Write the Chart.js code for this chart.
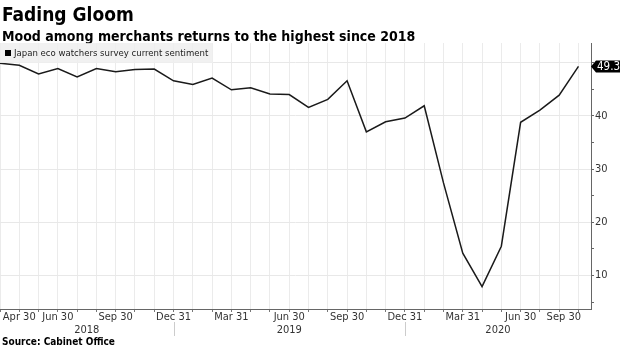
<!DOCTYPE html>
<html>
<head>
<meta charset="utf-8">
<script src="https://cdn.jsdelivr.net/npm/chart.js@4.4.1/dist/chart.umd.min.js"></script>
<style>
  html, body { margin: 0; padding: 0; background: #fff; }
  #wrap { position: relative; width: 620px; height: 348px; overflow: hidden; font-family: "DejaVu Sans Condensed", "DejaVu Sans", sans-serif; font-stretch: condensed; }
  #chart { position: absolute; left: 0; top: 0; }
  .txt { position: absolute; left: 2px; white-space: nowrap; line-height: 1; color: #000; font-weight: bold; }
  #title { top: 5px; font-size: 19px; }
  #subtitle { top: 29px; font-size: 14px; }
  #source { top: 337px; font-size: 10px; }
  #legend { position: absolute; left: 0; top: 43px; width: 213px; height: 20px; background: rgba(238,238,238,0.85); font-size: 9.5px; line-height: 20px; color: #222; white-space: nowrap; }
  #legend span.sw { display: inline-block; width: 6px; height: 6px; background: #000; margin: 0 3px 0 5px; vertical-align: 0px; }
</style>
</head>
<body>
<div id="wrap">
  <canvas id="chart" width="620" height="348"></canvas>
  <div class="txt" id="title">Fading Gloom</div>
  <div class="txt" id="subtitle">Mood among merchants returns to the highest since 2018</div>
  <div id="legend"><span class="sw"></span><span id="legendText"></span></div>
  <div class="txt" id="source">Source: Cabinet Office</div>
</div>
<script>
// Monthly readings, Mar 2018 .. Sep 2020
const months = [
  '2018-03','2018-04','2018-05','2018-06','2018-07','2018-08','2018-09','2018-10','2018-11','2018-12',
  '2019-01','2019-02','2019-03','2019-04','2019-05','2019-06','2019-07','2019-08','2019-09','2019-10','2019-11','2019-12',
  '2020-01','2020-02','2020-03','2020-04','2020-05','2020-06','2020-07','2020-08','2020-09'
];
const sentiment = [
  49.9, 49.5, 47.9, 48.9, 47.3, 48.9, 48.3, 48.7, 48.8, 46.6,
  45.9, 47.1, 44.9, 45.3, 44.1, 44.0, 41.6, 43.1, 46.6, 37.0, 38.9, 39.6,
  41.9, 27.4, 14.2, 7.9, 15.5, 38.8, 41.1, 43.9, 49.3
];
const seriesName = 'Japan eco watchers survey current sentiment';

// labelled month ends on the time axis
const quarterMonths = ['2018-04','2018-06','2018-09','2018-12','2019-03','2019-06','2019-09','2019-12','2020-03','2020-06','2020-09'];
const quarterLabels = ['Apr 30','Jun 30','Sep 30','Dec 31','Mar 31','Jun 30','Sep 30','Dec 31','Mar 31','Jun 30','Sep 30'];
const years = ['2018', '2019', '2020'];
const yearEnds = ['2018-12', '2019-12'];
const yTicks = [5, 10, 15, 20, 25, 30, 35, 40, 45, 50];

document.getElementById('legendText').textContent = seriesName;

const FONT = '"DejaVu Sans Condensed", "DejaVu Sans", sans-serif';

const axisLabels = {
  id: 'axisLabels',
  afterDraw(chart) {
    const { ctx, chartArea, scales } = chart;
    const xs = scales.x, ys = scales.y;
    ctx.save();
    ctx.font = '11px ' + FONT;
    ctx.fillStyle = '#333';
    ctx.textBaseline = 'middle';

    // quarter-end labels
    quarterMonths.forEach((m, i) => {
      const px = xs.getPixelForValue(months.indexOf(m));
      const w = ctx.measureText(quarterLabels[i]).width;
      let left = px - w / 2;
      if (left + w > chartArea.right - 10) left = chartArea.right - 10 - w;
      ctx.textAlign = 'left';
      ctx.fillText(quarterLabels[i], left, chartArea.bottom + 8);
    });

    // year row with separators
    const bounds = [chartArea.left]
      .concat(yearEnds.map(m => xs.getPixelForValue(months.indexOf(m))))
      .concat([chartArea.right]);
    ctx.textAlign = 'center';
    years.forEach((y, i) => {
      ctx.fillText(y, (bounds[i] + bounds[i + 1]) / 2, chartArea.bottom + 21);
    });
    ctx.strokeStyle = '#ccc';
    ctx.lineWidth = 1;
    yearEnds.forEach(m => {
      const px = Math.round(xs.getPixelForValue(months.indexOf(m))) + 0.5;
      ctx.beginPath();
      ctx.moveTo(px, chartArea.bottom + 13);
      ctx.lineTo(px, chartArea.bottom + 27);
      ctx.stroke();
    });

    // last value tag on the right axis
    const last = sentiment[sentiment.length - 1];
    const ty = ys.getPixelForValue(last);
    const x0 = chartArea.right;
    ctx.fillStyle = '#000';
    ctx.beginPath();
    ctx.moveTo(x0, ty);
    ctx.lineTo(x0 + 5, ty - 6);
    ctx.lineTo(620, ty - 6);
    ctx.lineTo(620, ty + 6);
    ctx.lineTo(x0 + 5, ty + 6);
    ctx.closePath();
    ctx.fill();
    ctx.fillStyle = '#fff';
    ctx.font = '11.5px ' + FONT;
    ctx.textAlign = 'left';
    ctx.fillText(last.toFixed(1), x0 + 6, ty + 0.5);
    ctx.restore();
  }
};

new Chart(document.getElementById('chart'), {
  type: 'line',
  data: {
    datasets: [{
      label: seriesName,
      data: sentiment.map((v, i) => ({ x: i, y: v })),
      borderColor: '#1a1a1a',
      borderWidth: 1.5,
      pointRadius: 0,
      tension: 0,
      fill: false
    }]
  },
  options: {
    responsive: false,
    animation: false,
    devicePixelRatio: 1,
    layout: { padding: { top: 43, left: 0, right: 0, bottom: 0 } },
    plugins: { legend: { display: false }, tooltip: { enabled: false } },
    scales: {
      x: {
        type: 'linear',
        min: 0,
        max: 30.65,
        afterBuildTicks: scale => { scale.ticks = months.map((m, i) => ({ value: i })); },
        ticks: { display: false },
        grid: { color: '#ebebeb', tickColor: '#777', tickLength: 3 },
        border: { color: '#666', width: 1 },
        afterFit: scale => { scale.height = 39; }
      },
      y: {
        type: 'linear',
        position: 'right',
        min: 3.7,
        max: 53.7,
        afterBuildTicks: scale => { scale.ticks = yTicks.map(v => ({ value: v })); },
        ticks: {
          color: '#333',
          font: { family: FONT, size: 11 },
          padding: 1,
          callback: v => (v % 10 === 0 && v < 50) ? String(v) : ''
        },
        grid: {
          color: c => (c.tick && c.tick.value % 10 === 0) ? '#e8e8e8' : 'rgba(0,0,0,0)',
          tickColor: '#666',
          tickLength: 3
        },
        border: { color: '#666', width: 1 },
        afterFit: scale => { scale.width = 29; }
      }
    }
  },
  plugins: [axisLabels]
});
</script>
</body>
</html>
